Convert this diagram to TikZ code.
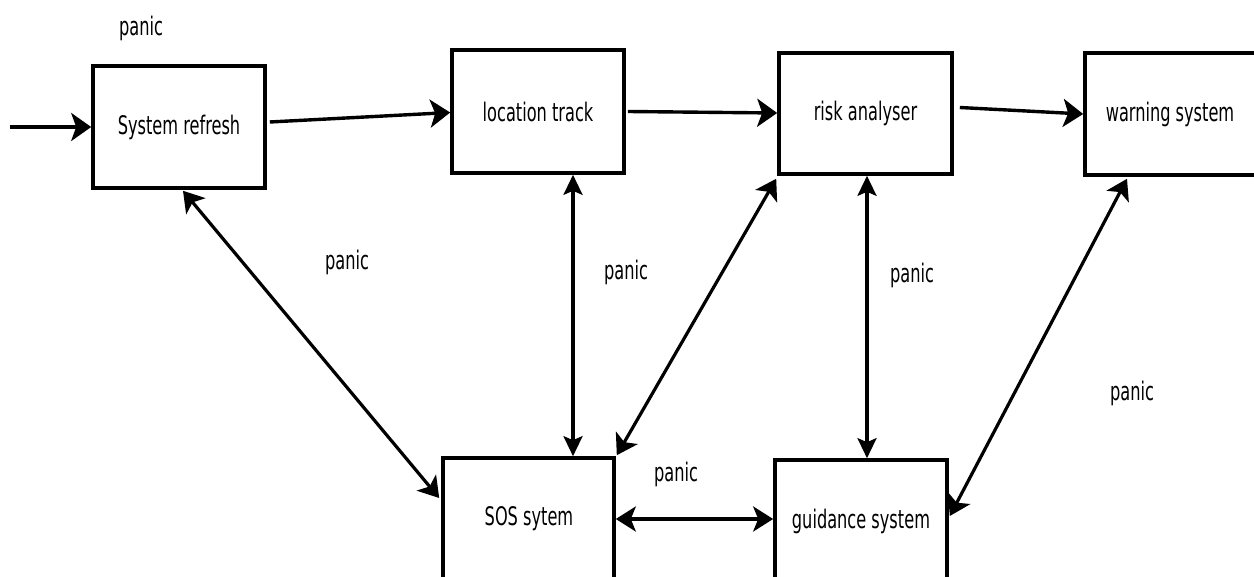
\documentclass[tikz,border=0pt]{standalone}
\usepackage{fontspec}
\setmainfont{DejaVu Sans Condensed}
\usetikzlibrary{arrows.meta}
% text set a little taller than the font's natural proportions
\newcommand{\stretched}[1]{\scalebox{1}[1.42]{#1}}

\begin{document}
\begin{tikzpicture}[x=1pt,y=-1pt,
  block/.style={draw=black, line width=3.6pt, fill=white, inner sep=0pt},
  lbl/.style={font=\fontsize{18}{21}\selectfont, inner sep=0pt},
  link/.style={line width=3.4pt, -{Stealth[length=20pt,width=28pt,inset=5pt]}},
  both/.style={line width=3.2pt,
    {Stealth[length=20pt,width=25pt,inset=5pt]}-{Stealth[length=20pt,width=25pt,inset=5pt]}},
  bothnarrow/.style={line width=3.2pt,
    {Stealth[length=20pt,width=19pt,inset=4pt]}-{Stealth[length=20pt,width=19pt,inset=4pt]}},
]
\useasboundingbox (0,0) rectangle (1254,577);
\clip (0,0) rectangle (1254,577);
\fill[white] (0,0) rectangle (1254,577);

% process blocks
\node[block, lbl, minimum width=172pt, minimum height=122pt] (sr) at (179,127) {\stretched{System refresh}};
\node[block, lbl, minimum width=172pt, minimum height=123pt] (lt) at (538,111.5) {\stretched{location track}};
\node[block, lbl, minimum width=173pt, minimum height=121pt] (ra) at (865.5,113.5) {\stretched{risk analyser}};
\node[block, minimum width=173pt, minimum height=122pt] (ws) at (1171.5,114) {};
\node[lbl] (wst) at (1170,114) {\stretched{warning system}};
\node[block, minimum width=171pt, minimum height=142pt] (sos) at (528.5,529) {};
\node[lbl] (sost) at (529,519) {\stretched{SOS sytem}};
\node[block, minimum width=172pt, minimum height=140pt] (gs) at (861,530) {};
\node[lbl] (gst) at (861,521) {\stretched{guidance system}};

% incoming trigger
\coordinate (in) at (10,127);
\draw[link] (in) -- (sr.west);

% forward chain
\draw[link] ([shift={(3,-5)}]sr.east) -- ([shift={(0,1)}]lt.west);
\draw[link] ([shift={(2,0)}]lt.east) -- ([shift={(0,-0.5)}]ra.west);
\draw[link] ([shift={(6,-6)}]ra.east) -- (ws.west);

% panic links
\draw[both] ([shift={(4,1)}]sr.south) -- ([shift={(-2,-31)}]sos.west);
\draw[bothnarrow] ([xshift=35pt]lt.south) -- ([xshift=44.5pt]sos.north);
\draw[both] ([shift={(-1,3)}]ra.south west) -- ([shift={(1,-1)}]sos.north east);
\draw[bothnarrow] ([xshift=1.5pt]ra.south) -- ([xshift=6pt]gs.north);
\draw[both] ([shift={(-44.5,2)}]ws.south) -- ([shift={(1,-14)}]gs.east);
\draw[both] ([shift={(0,-10)}]sos.east) -- ([shift={(0,-11)}]gs.west);

% panic labels
\node[lbl] (p1) at (141,28) {\stretched{panic}};
\node[lbl] (p2) at (347,262) {\stretched{panic}};
\node[lbl] (p3) at (626,272) {\stretched{panic}};
\node[lbl] (p4) at (912,275) {\stretched{panic}};
\node[lbl] (p5) at (1132,393) {\stretched{panic}};
\node[lbl] (p6) at (676,474) {\stretched{panic}};
\end{tikzpicture}
\end{document}
